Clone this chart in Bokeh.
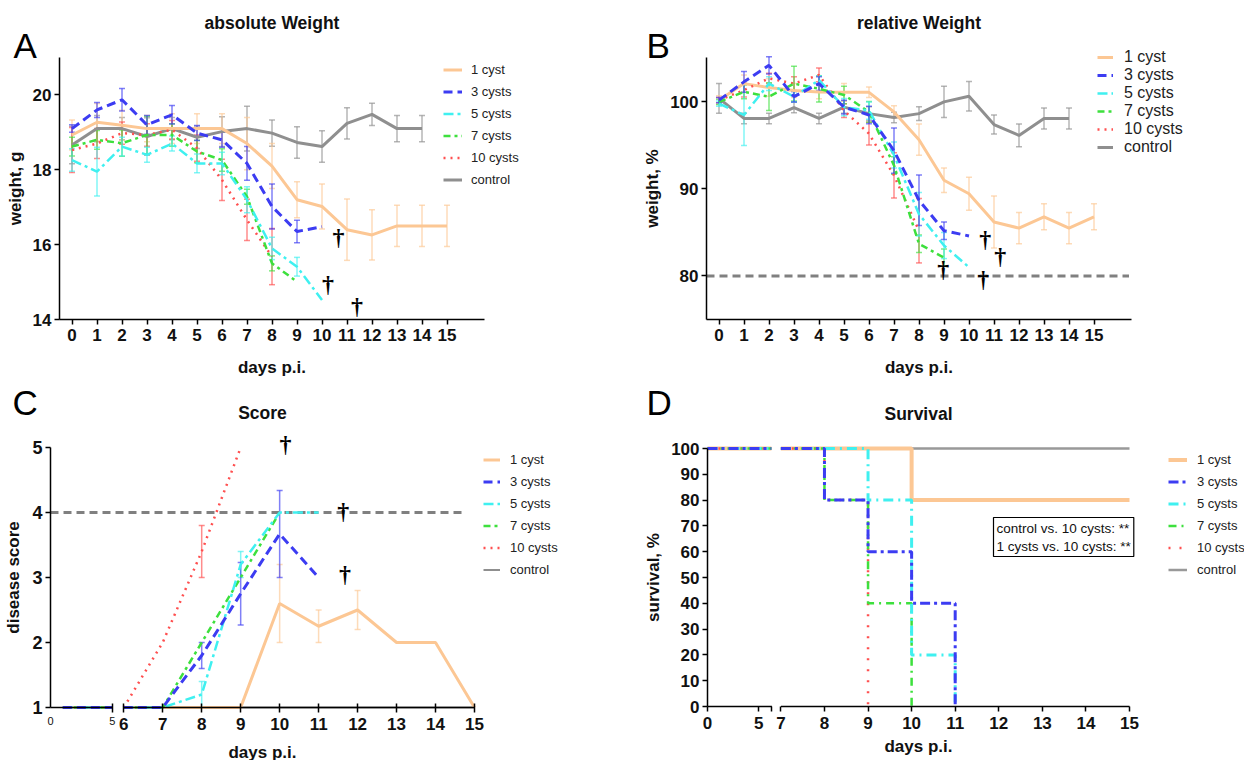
import math
from bokeh.plotting import figure
from bokeh.models import (Range1d, FixedTicker, Legend, LegendItem, Label, LabelSet,
                          ColumnDataSource, Whisker, TeeHead)
from bokeh.layouts import column, row
from bokeh.embed import file_html
from bokeh.resources import INLINE

NAN = float("nan")
GROUPS = ["1 cyst", "3 cysts", "5 cysts", "7 cysts", "10 cysts", "control"]

# ---------------- A: absolute weight (g), days 0.. ----------------
abs_1 = [18.93, 19.27, 19.19, 19.10, 19.10, 19.10, 19.10, 18.70, 18.10, 17.20, 17.02, 16.40, 16.26, 16.50, 16.50, 16.50]
abs_1_err = [0.40, 0.50, 0.40, 0.35, 0.40, 0.40, 0.40, 0.70, 0.60, 0.48, 0.60, 0.82, 0.67, 0.55, 0.55, 0.55]
abs_3 = [19.10, 19.60, 19.87, 19.20, 19.47, 18.98, 18.80, 18.17, 17.02, 16.35, 16.48]
abs_3_err = [0.10, 0.20, 0.30, 0.25, 0.25, 0.20, 0.20, 0.45, 0.60, 0.30, NAN]
abs_5 = [18.26, 17.95, 18.62, 18.40, 18.70, 18.17, 18.17, 17.20, 15.90, 15.41, 14.52]
abs_5_err = [0.30, 0.65, 0.25, 0.20, 0.20, 0.25, 0.30, 0.35, 0.30, 0.25, NAN]
abs_7 = [18.62, 18.80, 18.71, 18.93, 18.93, 18.49, 18.26, 17.28, 15.50, 15.01]
abs_7_err = [0.25, 0.25, 0.35, 0.50, 0.30, 0.30, 0.30, 0.20, 0.20, NAN]
abs_10 = [18.53, 18.70, 18.98, 18.93, 19.07, 18.58, 17.73, 16.66, 15.68]
abs_10_err = [0.60, 0.40, 0.30, 0.30, 0.25, 0.35, 0.55, 0.55, 0.75]
abs_ctrl = [18.66, 19.10, 19.10, 18.89, 19.10, 18.87, 19.02, 19.10, 18.98, 18.73, 18.62, 19.24, 19.48, 19.10, 19.10]
abs_ctrl_err = [0.50, 0.35, 0.30, 0.50, 0.30, 0.30, 0.40, 0.60, 0.35, 0.42, 0.42, 0.42, 0.30, 0.35, 0.35]
dagger_A_day = [10.66, 10.24, 11.40]
dagger_A_val = [16.20, 14.96, 14.35]

# ---------------- B: relative weight (%) ----------------
rel_1 = [100.2, 102.1, 101.65, 101.3, 101.15, 101.1, 101.1, 98.85, 95.66, 91.0, 89.45, 86.2, 85.5, 86.8, 85.5, 86.8]
rel_1_err = [0.5, 1.0, 1.0, 0.8, 0.8, 1.0, 0.6, 0.7, 1.8, 1.4, 1.9, 3.0, 1.8, 1.5, 1.8, 1.5]
rel_3 = [100.2, 102.3, 104.2, 100.6, 102.1, 99.4, 98.5, 94.4, 88.7, 85.2, 84.6]
rel_3_err = [0.3, 1.2, 1.0, 0.6, 0.8, 0.8, 1.0, 2.6, 2.9, 1.0, NAN]
rel_5 = [99.8, 98.5, 102.1, 100.6, 102.5, 99.4, 99.0, 93.9, 87.1, 83.5, 81.0]
rel_5_err = [0.3, 3.5, 0.8, 0.6, 0.5, 1.0, 1.0, 1.5, 2.5, 1.5, NAN]
rel_7 = [100.0, 101.15, 100.6, 102.1, 101.5, 100.8, 98.85, 92.7, 83.7, 82.1]
rel_7_err = [0.3, 0.8, 1.6, 2.0, 1.5, 1.0, 1.2, 1.0, 1.0, 1.0]
rel_10 = [100.2, 101.35, 102.7, 102.1, 103.1, 99.0, 96.35, 91.55, 85.2]
rel_10_err = [0.3, 0.8, 0.6, 0.8, 0.8, 0.8, 1.3, 2.6, 3.7]
rel_ctrl = [100.4, 98.1, 98.1, 99.35, 98.1, 99.4, 98.65, 98.2, 98.65, 100.0, 100.65, 97.4, 96.15, 98.1, 98.1]
rel_ctrl_err = [1.7, 0.6, 0.6, 0.6, 0.6, 0.7, 0.8, 0.6, 0.8, 1.8, 1.7, 1.1, 1.3, 1.2, 1.2]
rel_threshold = 80
dagger_B_day = [10.65, 11.25, 8.97, 10.57]
dagger_B_val = [84.3, 82.3, 80.8, 79.7]

# ---------------- C: disease score, days 1.. ----------------
score_1 = [1, 1, 1, 1, 1, 1, 1, 1, 1, 2.6, 2.25, 2.5, 2.0, 2.0, 1.0]
score_1_err = [NAN] * 9 + [0.6, 0.25, 0.3, NAN, NAN, NAN]
score_3 = [1, 1, 1, 1, 1, 1, 1, 1.8, 2.75, 3.67, 3.0]
score_3_err = [NAN] * 7 + [0.2, 0.48, 0.67, NAN]
score_5 = [1, 1, 1, 1, 1, 1, 1, 1.2, 3.2, 4.0, 4.0]
score_5_err = [NAN] * 7 + [0.2, 0.2, NAN, NAN]
score_7 = [1, 1, 1, 1, 1, 1, 1, 2.0, 3.0, 4.0]
score_7_err = [NAN] * 10
score_10 = [1, 1, 1, 1, 1, 1, 2.0, 3.4, 5.0]
score_10_err = [NAN] * 7 + [0.4, NAN]
score_ctrl = [1] * 15
score_ctrl_err = [NAN] * 15
score_threshold = 4
dagger_C_day = [10.15, 11.63, 11.68]
dagger_C_val = [5.06, 4.03, 3.06]

# ---------------- D: survival (%) : event days / survival after ----------------
surv_1_t, surv_1_s = [0, 10, 15], [100, 80, 80]
surv_3_t, surv_3_s = [0, 8, 9, 10, 11], [100, 80, 60, 40, 0]
surv_5_t, surv_5_s = [0, 9, 10, 11], [100, 80, 20, 0]
surv_7_t, surv_7_s = [0, 8, 9, 10], [100, 80, 40, 0]
surv_10_t, surv_10_s = [0, 8, 9], [100, 80, 0]
surv_c_t, surv_c_s = [0, 15], [100, 100]
stats_text = "control vs. 10 cysts: **\n1 cysts vs. 10 cysts: **"

STY = {
    "1 cyst":   dict(color="#FCC794", dash="solid", width=3.0),
    "3 cysts":  dict(color="#3C3CF2", dash="9 5", width=3.0),
    "5 cysts":  dict(color="#3FF0F0", dash="10 4 3 4", width=2.5),
    "7 cysts":  dict(color="#3DE03D", dash="7 4 3 4", width=2.5),
    "10 cysts": dict(color="#FF4F4F", dash="2 5", width=2.5),
    "control":  dict(color="#8F8F8F", dash="solid", width=3.0),
}
STY_D = {
    "1 cyst":   dict(color="#FCC794", dash="solid", width=4.0),
    "3 cysts":  dict(color="#3C3CF2", dash="10 4 3 4", width=3.0),
    "5 cysts":  dict(color="#3FF0F0", dash="10 5 2 5", width=3.0),
    "7 cysts":  dict(color="#3DE03D", dash="8 5 2 5", width=2.5),
    "10 cysts": dict(color="#FF4F4F", dash="2 9", width=2.5),
    "control":  dict(color="#999999", dash="solid", width=2.5),
}
FONT = "Liberation Sans"
DRAW_ORDER = ["control", "1 cyst", "10 cysts", "7 cysts", "5 cysts", "3 cysts"]


class Panel:
    """Figure box (fx, fy, fw, fh) in page px; plot area (l, t, r, b) in page px holding data box xd, yd."""

    def __init__(self, fx, fy, fw, fh, l, t, r, b, xd, yd):
        self.fx, self.fy, self.fw, self.fh = fx, fy, fw, fh
        self.l, self.t, self.r, self.b = l, t, r, b
        self.xd, self.yd = xd, yd
        self.sx = (xd[1] - xd[0]) / (r - l)
        self.sy = (yd[1] - yd[0]) / (b - t)
        self.xr = (xd[0] - (l - fx) * self.sx, xd[0] + (fx + fw - l) * self.sx)
        self.yr = (yd[0] - (fy + fh - b) * self.sy, yd[1] + (t - fy) * self.sy)

    def x(self, px):
        return self.xd[0] + (px - self.l) * self.sx

    def y(self, py):
        return self.yd[1] - (py - self.t) * self.sy


def make_fig(pn, title, xlabel, ylabel, letter, letter_px, letter_py):
    p = figure(width=pn.fw, height=pn.fh, x_range=Range1d(*pn.xr), y_range=Range1d(*pn.yr),
               output_backend="svg", toolbar_location=None,
               min_border=0, min_border_left=0, min_border_right=0,
               min_border_top=0, min_border_bottom=0)
    p.outline_line_color = None
    p.grid.visible = False
    p.background_fill_color = "white"
    p.border_fill_color = "white"
    xa, ya = p.xaxis[0], p.yaxis[0]
    xa.fixed_location = pn.yd[0]
    xa.bounds = pn.xd
    ya.fixed_location = pn.xd[0]
    ya.bounds = pn.yd
    for ax in (xa, ya):
        ax.axis_line_color = "black"
        ax.axis_line_width = 1.5
        ax.major_tick_line_color = "black"
        ax.major_tick_line_width = 1.5
        ax.major_tick_in = 0
        ax.major_tick_out = 5
        ax.minor_tick_line_color = None
        ax.major_label_text_font = FONT
        ax.major_label_text_font_style = "bold"
        ax.major_label_text_font_size = "17px"
        ax.major_label_text_color = "#111111"
        ax.major_label_standoff = 3
        ax.axis_label_text_font = FONT
        ax.axis_label_text_font_style = "bold"
        ax.axis_label_text_font_size = "17px"
        ax.axis_label_text_color = "#111111"
    xa.axis_label = xlabel
    ya.axis_label = ylabel
    xa.major_label_standoff = 4
    xa.axis_label_standoff = 14
    ya.axis_label_standoff = 5
    p.add_layout(Label(x=pn.x((pn.l + pn.r) / 2), y=pn.y(pn.t - 35), text=title, text_font=FONT,
                       text_font_size="17.5px", text_font_style="bold", text_align="center",
                       text_baseline="middle", text_color="#111111"))
    p.add_layout(Label(x=pn.x(letter_px), y=pn.y(letter_py), text=letter, text_font=FONT,
                       text_font_size="35px", text_align="left", text_baseline="middle",
                       text_color="black"))
    return p


def add_err(p, xs, ys, es, color):
    bx, lo, hi = [], [], []
    for x, y, e in zip(xs, ys, es):
        if e is None or (isinstance(e, float) and math.isnan(e)):
            continue
        bx.append(x); lo.append(y - e); hi.append(y + e)
    if not bx:
        return
    src = ColumnDataSource(dict(base=bx, lower=lo, upper=hi))
    w = Whisker(source=src, base="base", lower="lower", upper="upper", dimension="height",
                line_color=color, line_alpha=0.65, line_width=1.5,
                upper_head=TeeHead(size=6, line_color=color, line_alpha=0.65, line_width=1.5),
                lower_head=TeeHead(size=6, line_color=color, line_alpha=0.65, line_width=1.5))
    p.add_layout(w)


def add_legend(p, pn, renderers, left_px, bottom_px, font_px, glyph_w, item_h, spacing, standoff):
    items = [LegendItem(label=g, renderers=[renderers[g]]) for g in GROUPS]
    lg = Legend(items=items, location=(left_px - pn.fx, pn.fy + pn.fh - bottom_px),
                orientation="vertical",
                glyph_width=glyph_w, glyph_height=item_h, label_height=item_h,
                spacing=spacing, padding=0, margin=0, label_standoff=standoff,
                border_line_color=None, background_fill_alpha=0,
                label_text_font=FONT, label_text_font_size=font_px, label_text_color="#222222")
    p.add_layout(lg)


def add_daggers(p, xs, ys):
    src = ColumnDataSource(dict(x=xs, y=ys, t=["\u2020"] * len(xs)))
    p.add_layout(LabelSet(x="x", y="y", text="t", source=src, text_align="center",
                          text_baseline="middle", text_font="DejaVu Sans",
                          text_font_size="24px", text_font_style="bold", text_color="black"))


# ======================= A =======================
pnA = Panel(0, 0, 628, 384, 59, 57, 484, 319, (-0.5, 16.5), (14, 21))
pA = make_fig(pnA, "absolute Weight", "days p.i.", "weight, g", "A", 13, 45)
pA.xaxis[0].ticker = FixedTicker(ticks=list(range(16)))
pA.yaxis[0].ticker = FixedTicker(ticks=[14, 16, 18, 20])
dataA = {"1 cyst": (abs_1, abs_1_err), "3 cysts": (abs_3, abs_3_err), "5 cysts": (abs_5, abs_5_err),
         "7 cysts": (abs_7, abs_7_err), "10 cysts": (abs_10, abs_10_err), "control": (abs_ctrl, abs_ctrl_err)}
rA = {}
for g in DRAW_ORDER:
    vals, errs = dataA[g]
    d = list(range(len(vals)))
    s = STY[g]
    add_err(pA, d, vals, errs, s["color"])
    rA[g] = pA.line(d, vals, line_color=s["color"], line_width=s["width"], line_dash=s["dash"])
add_legend(pA, pnA, rA, 443, 188, "13px", 19, 17, 5, 9)
add_daggers(pA, dagger_A_day, dagger_A_val)

# ======================= B =======================
pnB = Panel(628, 0, 616, 384, 706, 57, 1131, 319, (-0.5, 16.5), (75, 105.1))
pB = make_fig(pnB, "relative Weight", "days p.i.", "weight, %", "B", 646, 45)
pB.xaxis[0].ticker = FixedTicker(ticks=list(range(16)))
pB.yaxis[0].ticker = FixedTicker(ticks=[80, 90, 100])
pB.yaxis[0].axis_label_standoff = 5
pB.line([pnB.xd[0], 16.4], [rel_threshold, rel_threshold], line_color="#808080",
        line_dash="8 5", line_width=3)
dataB = {"1 cyst": (rel_1, rel_1_err), "3 cysts": (rel_3, rel_3_err), "5 cysts": (rel_5, rel_5_err),
         "7 cysts": (rel_7, rel_7_err), "10 cysts": (rel_10, rel_10_err), "control": (rel_ctrl, rel_ctrl_err)}
rB = {}
for g in DRAW_ORDER:
    vals, errs = dataB[g]
    d = list(range(len(vals)))
    s = STY[g]
    add_err(pB, d, vals, errs, s["color"])
    rB[g] = pB.line(d, vals, line_color=s["color"], line_width=s["width"], line_dash=s["dash"])
add_legend(pB, pnB, rB, 1097, 155.5, "16px", 16, 18, 0, 11)
add_daggers(pB, dagger_B_day, dagger_B_val)

# ======================= C (broken x axis) =======================
C_U0, C_SCALE = 4.12, 0.3166


def c_u(d):
    if isinstance(d, float) and math.isnan(d):
        return NAN
    return round(C_U0 + C_SCALE * d, 4) if d <= 5.5 else d


pnC = Panel(0, 384, 628, 376, 50, 447, 474, 707, (C_U0, 15), (1, 5))
pC = make_fig(pnC, "Score", "days p.i.", "disease score", "C", 12, 402)
pC.yaxis[0].major_label_text_font_size = "18px"
pC.yaxis[0].axis_label_standoff = 6
pC.yaxis[0].ticker = FixedTicker(ticks=[1, 2, 3, 4, 5])
xaC = pC.xaxis[0]
xaC.ticker = FixedTicker(ticks=[c_u(5)] + list(range(6, 16)))
xaC.major_label_overrides = {c_u(5): ""}
xaC.major_tick_in = 4
xaC.axis_line_color = None
xaC.major_label_standoff = 5
xaC.axis_label_standoff = 10
pC.line([C_U0, 14.76], [score_threshold, score_threshold], line_color="#808080",
        line_dash="8 5", line_width=3)
dataC = {"1 cyst": (score_1, score_1_err), "3 cysts": (score_3, score_3_err),
         "5 cysts": (score_5, score_5_err), "7 cysts": (score_7, score_7_err),
         "10 cysts": (score_10, score_10_err), "control": (score_ctrl, score_ctrl_err)}
rC = {}
for g in DRAW_ORDER:
    vals, errs = dataC[g]
    days = list(range(1, len(vals) + 1))
    xs, ys = [], []
    for dd, v in zip(days, vals):
        if dd == 6:
            xs.append(NAN); ys.append(NAN)
        xs.append(c_u(dd)); ys.append(v)
    s = STY[g]
    add_err(pC, [c_u(dd) for dd in days], vals, errs, s["color"])
    w = 2.0 if g == "control" else s["width"]
    rC[g] = pC.line(xs, ys, line_color=s["color"], line_width=w, line_dash=s["dash"])
pC.line([c_u(0), c_u(5), NAN, 6, 15], [1, 1, NAN, 1, 1], line_color="black", line_width=1.5)
for dd, t in [(0, "0"), (5, "5")]:
    pC.add_layout(Label(x=c_u(dd), y=1, text=t, text_font=FONT, text_font_size="11px",
                        text_align="center", text_baseline="top", y_offset=-9, text_color="#111111"))
add_legend(pC, pnC, rC, 483, 577.5, "13px", 17, 17, 5, 10)
add_daggers(pC, [c_u(x) for x in dagger_C_day], dagger_C_val)

# ======================= D (broken x axis) =======================
D_U0, D_SCALE = 5.316, 0.2346
D_BREAK_A, D_BREAK_B = 6.25, 7.0


def d_u(d):
    if isinstance(d, float) and math.isnan(d):
        return NAN
    return round(D_U0 + D_SCALE * d, 4) if d <= 6.5 else d


def km_path(ts, ss):
    xs, ys = [ts[0]], [ss[0]]
    for i in range(1, len(ts)):
        x0, y0 = xs[-1], ys[-1]
        x1 = ts[i]
        if x0 <= D_BREAK_A and x1 >= D_BREAK_B:
            xs += [D_BREAK_A, NAN, D_BREAK_B]; ys += [y0, NAN, y0]
        xs += [x1, x1]; ys += [ss[i - 1], ss[i]]
    return [d_u(x) for x in xs], ys


pnD = Panel(628, 384, 616, 376, 707, 448, 1129, 706, (D_U0, 15), (0, 100))
pD = make_fig(pnD, "Survival", "days p.i.", "survival, %", "D", 646, 402)
pD.yaxis[0].ticker = FixedTicker(ticks=list(range(0, 101, 10)))
pD.yaxis[0].axis_label_standoff = 5
brk = d_u(D_BREAK_A + 0.05)
xaD = pD.xaxis[0]
xaD.ticker = FixedTicker(ticks=[d_u(0), d_u(5), brk] + list(range(7, 16)))
xaD.major_label_overrides = {d_u(0): "0", d_u(5): "5", brk: ""}
xaD.axis_line_color = None
xaD.major_label_standoff = 5
xaD.axis_label_standoff = 5
dataD = {"1 cyst": (surv_1_t, surv_1_s), "3 cysts": (surv_3_t, surv_3_s), "5 cysts": (surv_5_t, surv_5_s),
         "7 cysts": (surv_7_t, surv_7_s), "10 cysts": (surv_10_t, surv_10_s), "control": (surv_c_t, surv_c_s)}
rD = {}
for g in DRAW_ORDER:
    ts, ss = dataD[g]
    xs, ys = km_path(ts, ss)
    s = STY_D[g]
    rD[g] = pD.line(xs, ys, line_color=s["color"], line_width=s["width"], line_dash=s["dash"])
pD.line([d_u(0), brk, NAN, 7, 15], [0, 0, NAN, 0, 0], line_color="black", line_width=1.5)
add_legend(pD, pnD, rD, 1168, 577.5, "13px", 19, 17, 5, 10)
pD.add_layout(Label(x=pnD.x(993), y=pnD.y(517), text=stats_text, text_font=FONT,
                    text_font_size="13.5px", text_align="left", text_baseline="top",
                    text_color="#111111", border_line_color="black", border_line_width=1.2,
                    background_fill_color="white", padding=3))

layout = column(row(pA, pB), row(pC, pD))
open("out.html", "w").write(file_html(layout, INLINE))
